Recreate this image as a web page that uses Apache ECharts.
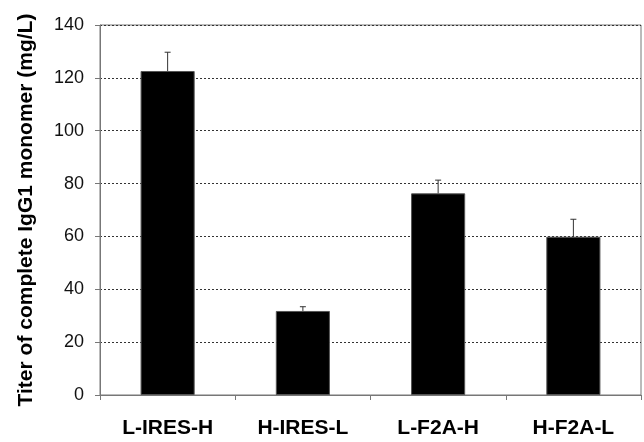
<!DOCTYPE html>
<html><head><meta charset="utf-8">
<script src="https://cdn.jsdelivr.net/npm/echarts@6/dist/echarts.min.js"></script>
<style>html,body{margin:0;padding:0;background:#fff}#c{width:644px;height:442px}</style>
</head><body><div id="c"></div>
<script>
const categories = ['L-IRES-H', 'H-IRES-L', 'L-F2A-H', 'H-F2A-L'];
const titers = [122.6, 31.8, 76.3, 59.9];
const errors = [7.1, 1.6, 5.0, 6.6];
const yTicks = {min: 0, max: 140, interval: 20};
const yTitle = 'Titer of complete IgG1 monomer (mg/L)';

const chart = echarts.init(document.getElementById('c'));
chart.setOption({
  animation: false,
  grid: {left: 100, top: 25, right: 3, bottom: 47, show: true, borderColor: '#777', borderWidth: 1},
  xAxis: {
    type: 'category', data: categories,
    axisLine: {lineStyle: {color: '#777', width: 1}},
    axisTick: {show: true, length: 5, lineStyle: {color: '#777'}},
    axisLabel: {color: '#000', fontFamily: 'Liberation Sans, Arial', fontWeight: 'bold', fontSize: 21, margin: 23}
  },
  yAxis: {
    type: 'value', min: yTicks.min, max: yTicks.max, interval: yTicks.interval,
    name: yTitle, nameLocation: 'middle', nameGap: 63,
    nameTextStyle: {color: '#000', fontFamily: 'Liberation Sans, Arial', fontWeight: 'bold', fontSize: 21},
    axisLine: {show: true, lineStyle: {color: '#777'}},
    axisTick: {show: true, length: 5, lineStyle: {color: '#777'}},
    axisLabel: {color: '#111', fontFamily: 'Liberation Sans, Arial', fontSize: 18, margin: 16},
    splitLine: {show: true, lineStyle: {color: '#333', type: [2, 2], width: 1}}
  },
  series: [
    {
      type: 'bar', data: titers, barWidth: '40%',
      itemStyle: {color: '#000', borderColor: '#555', borderWidth: 1}
    },
    {
      type: 'custom',
      data: titers.map((v, i) => [i, v, v + errors[i]]),
      renderItem: function (params, api) {
        const x = api.coord([api.value(0), api.value(1)]);
        const top = api.coord([api.value(0), api.value(2)]);
        const half = 3;
        return {
          type: 'group',
          children: [
            {type: 'line', shape: {x1: x[0], y1: x[1], x2: top[0], y2: top[1]}, style: {stroke: '#333', lineWidth: 1}},
            {type: 'line', shape: {x1: top[0] - half, y1: top[1], x2: top[0] + half, y2: top[1]}, style: {stroke: '#333', lineWidth: 1}}
          ]
        };
      },
      z: 3
    }
  ]
});
</script></body></html>
